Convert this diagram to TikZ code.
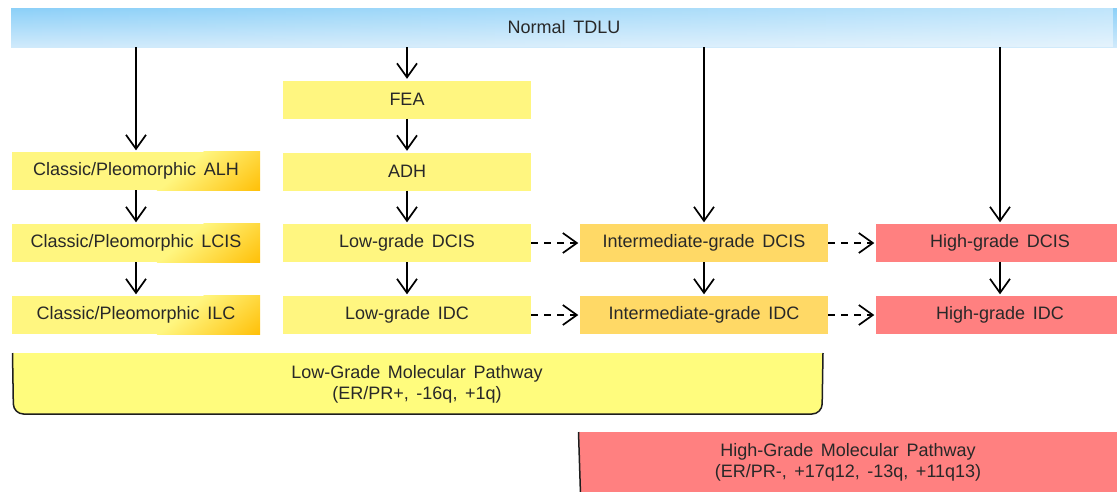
\documentclass[tikz,border=0pt]{standalone}
\usepackage{fontspec}
\setmainfont{Liberation Sans}
\usetikzlibrary{arrows.meta,fadings}
\definecolor{txt}{RGB}{40,40,40}
\definecolor{yel}{RGB}{255,246,128}
\definecolor{ora}{RGB}{255,188,0}
\definecolor{mid}{RGB}{255,217,102}
\definecolor{redbox}{RGB}{255,128,128}
\definecolor{pathyel}{RGB}{255,252,125}
\definecolor{blueT}{RGB}{140,208,248}
\definecolor{blueB}{RGB}{208,234,251}
\definecolor{bord}{RGB}{30,30,30}
\pgfdeclarelayer{bg}
\pgfsetlayers{bg,main}
\newcommand\fs{\fontsize{18}{21}\selectfont\spaceskip=0.42em plus 0.1em\relax}
\newcommand\orangegrad[1]{%
  \begin{scope}
    \clip (#1.north west) rectangle (#1.south east);
    \fill[yel] (#1.north west) rectangle (#1.south east);
    \shade[left color=yel, right color=ora, transform canvas={shift={(#1.south east)}, rotate=-50}] (-66,-300) rectangle (4,300);
  \end{scope}}
\tikzset{
  box/.style={minimum width=248pt, minimum height=38pt, inner sep=0pt, text=txt, font=\fs},
  ybox/.style={box, fill=yel},
  gbox/.style={box},
  ibox/.style={box, fill=mid},
  hbox/.style={box, fill=redbox},
  arr/.style={draw=black, line width=1.7pt, shorten >=1.5pt, -{Straight Barb[length=14pt,width=20pt]}},
  darr/.style={arr, dash pattern=on 7pt off 6pt},
  pathtxt/.style={font=\fs, text=txt, align=center, inner sep=0pt},
  pathline/.style={draw=bord, line width=1.5pt, rounded corners=10pt},
}
\begin{document}
\begin{tikzpicture}[x=1pt,y=-1pt]
\useasboundingbox (0,0) rectangle (1117,491);
\begin{pgfonlayer}{bg}
\fill[white] (0,0) rectangle (1117,491);
\end{pgfonlayer}
\clip (0,0) rectangle (1117,491);
% top bar
\shade[top color=blueT, bottom color=blueB] (11,8) rectangle (1117,47);
\fill[white, path fading=west, fill opacity=0.45] (11,8) rectangle (1117,47);
\node[inner sep=0pt, minimum width=1106pt, minimum height=39pt, text=txt, font=\fs] (tdlu) at (564,27.5) {Normal TDLU};
% boxes
\node[gbox] (alh)  at (136,171) {Classic/Pleomorphic ALH};
\node[gbox] (lcis) at (136,243) {Classic/Pleomorphic LCIS};
\node[gbox] (ilc)  at (136,315) {Classic/Pleomorphic ILC};
\begin{pgfonlayer}{bg}
\orangegrad{alh}
\orangegrad{lcis}
\orangegrad{ilc}
\end{pgfonlayer}
\node[ybox] (fea)  at (407,99.5) {FEA};
\node[ybox] (adh)  at (407,171.5) {ADH};
\node[ybox] (ldcis) at (407,243) {Low-grade DCIS};
\node[ybox] (lidc)  at (407,315) {Low-grade IDC};
\node[ibox] (idcis) at (704,243) {Intermediate-grade DCIS};
\node[ibox] (iidc)  at (704,315) {Intermediate-grade IDC};
\node[hbox] (hdcis) at (1000,243) {High-grade DCIS};
\node[hbox] (hidc)  at (1000,315) {High-grade IDC};
% pathways
\begin{scope}
\clip (0,353) rectangle (1117,491);
\fill[pathyel, rounded corners=10pt] (12.5,330) -- (13.5,414) -- (822,414) -- (823,330) -- cycle;
\end{scope}
\draw[pathline] (12.5,353) -- (13.5,414) -- (822,414) -- (823,353);
\node[pathtxt] (lowp) at (417,384) {Low-Grade Molecular Pathway\\(ER/PR+, -16q, +1q)};
\begin{scope}
\clip (0,432) rectangle (1117,491);
\fill[redbox, rounded corners=12pt] (578.5,410) -- (581,510) -- (1140,510) -- (1140,410) -- cycle;
\end{scope}
\draw[pathline, rounded corners=12pt] (578.5,432) -- (581,510) -- (1140,510);
\node[pathtxt] (highp) at (848,462) {High-Grade Molecular Pathway\\(ER/PR-, +17q12, -13q, +11q13)};
% arrows
\draw[arr] (tdlu.south -| alh) -- (alh);
\draw[arr] (tdlu.south -| fea) -- (fea);
\draw[arr] (tdlu.south -| idcis) -- (idcis);
\draw[arr] (tdlu.south -| hdcis) -- (hdcis);
\draw[arr] (fea) -- (adh);
\draw[arr] (adh) -- (ldcis);
\draw[arr] (ldcis) -- (lidc);
\draw[arr] (alh) -- (lcis);
\draw[arr] (lcis) -- (ilc);
\draw[arr] (idcis) -- (iidc);
\draw[arr] (hdcis) -- (hidc);
\draw[darr] (ldcis) -- (idcis);
\draw[darr] (lidc) -- (iidc);
\draw[darr] (idcis) -- (hdcis);
\draw[darr] (iidc) -- (hidc);
\end{tikzpicture}
\end{document}
